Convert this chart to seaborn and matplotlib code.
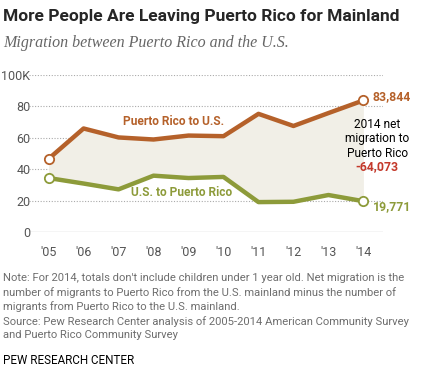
import numpy as np
import pandas as pd
import seaborn as sns
import matplotlib.pyplot as plt

# values in thousands
years = ["'05", "'06", "'07", "'08", "'09", "'10", "'11", "'12", "'13", "'14"]
pr_to_us = [46.7, 66.0, 60.3, 59.0, 61.5, 61.1, 75.3, 67.6, 75.8, 83.844]
us_to_pr = [34.5, 31.0, 27.3, 36.0, 34.5, 35.2, 19.2, 19.4, 23.7, 19.771]
yticks = [0, 20, 40, 60, 80, 100]
ytick_labels = ["0", "20", "40", "60", "80", "100K"]

orange = "#B5612A"
green = "#8D9B3A"
red = "#C4392B"
grey = "#666666"

df = pd.DataFrame({"idx": range(len(years)), "pr": pr_to_us, "us": us_to_pr})

sns.set_style("white")
plt.rcParams["font.family"] = ["Roboto", "DejaVu Sans"]

fig = plt.figure(figsize=(4.22, 3.77), dpi=100)
ax = fig.add_axes([29 / 422, 1 - 232.3 / 377, 354 / 422, 157.3 / 377])

ax.fill_between(df["idx"], df["us"], df["pr"], color="#F1EFE7", zorder=1, lw=0)
sns.lineplot(data=df, x="idx", y="pr", color=orange, lw=3.2, ax=ax, zorder=3)
sns.lineplot(data=df, x="idx", y="us", color=green, lw=3.2, ax=ax, zorder=3)

ends = df.iloc[[0, -1]]
ax.scatter(ends["idx"], ends["pr"], s=45, facecolor="white", edgecolor=orange, lw=1.3, zorder=4)
ax.scatter(ends["idx"], ends["us"], s=45, facecolor="white", edgecolor=green, lw=1.3, zorder=4)

ax.set_xlim(-0.56, 9.56)
ax.set_ylim(0, 100)
ax.set_yticks(yticks)
ax.set_yticklabels(ytick_labels)
ax.set_xticks(df["idx"])
ax.set_xticklabels(years)
ax.set_xlabel("")
ax.set_ylabel("")
ax.tick_params(length=0, labelsize=9, colors="#555555")
ax.tick_params(axis="x", pad=10)
ax.tick_params(axis="y", pad=-1)
for s in ax.spines.values():
    s.set_visible(False)
for t in yticks[1:]:
    ax.axhline(t, color="#AAAAAA", lw=0.8, ls=(0, (1, 1.5)), zorder=0)
ax.axhline(0, color="#CCCCCC", lw=1, zorder=0)

ax.text(3.56, 70.5, "Puerto Rico to U.S.", color=orange, fontsize=8.6, fontweight="bold",
        ha="center", va="center")
ax.text(3.8, 25.3, "U.S. to Puerto Rico", color=green, fontsize=8.6, fontweight="bold",
        ha="center", va="center")
ax.text(9.27, pr_to_us[-1] + 2.3, f"{pr_to_us[-1] * 1000:,.0f}", color=orange, fontsize=8.8,
        fontweight="bold", ha="left", va="center")
ax.text(9.27, us_to_pr[-1] - 3.6, f"{us_to_pr[-1] * 1000:,.0f}", color=green, fontsize=8.8,
        fontweight="bold", ha="left", va="center")
ax.text(9.4, 59.5, "2014 net\nmigration to\nPuerto Rico", color="black", fontsize=8.6,
        ha="center", va="center", linespacing=1.15)
net = (us_to_pr[-1] - pr_to_us[-1]) * 1000
ax.text(9.4, 41.5, f"{net:,.0f}", color=red, fontsize=8.8, fontweight="bold", ha="center", va="center")

fig.text(3 / 422, 1 - 16 / 377, "More People Are Leaving Puerto Rico for Mainland",
         fontsize=12.5, fontweight="bold", va="center")
fig.text(3 / 422, 1 - 43 / 377, "Migration between Puerto Rico and the U.S.",
         fontsize=11.5, style="italic", color=grey, va="center", family=["Liberation Serif"])

note = ("Note: For 2014, totals don't include children under 1 year old. Net migration is the\n"
        "number of migrants to Puerto Rico from the U.S. mainland minus the number of\n"
        "migrants from Puerto Rico to the U.S. mainland.\n"
        "Source: Pew Research Center analysis of 2005-2014 American Community Survey\n"
        "and Puerto Rico Community Survey")
fig.text(3 / 422, 1 - 273 / 377, note, fontsize=8.1, color="#6E6E6E", va="top", linespacing=1.42)
fig.text(3 / 422, 1 - 360 / 377, "PEW RESEARCH CENTER", fontsize=8.4, color="black", va="center")

fig.savefig("out.png", dpi=100)
